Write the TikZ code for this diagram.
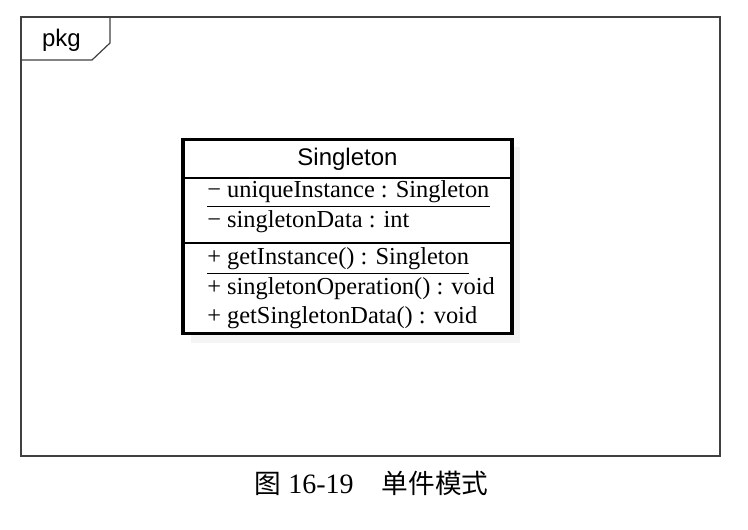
\documentclass[tikz,border=0pt]{standalone}
\usepackage{fontspec}
\setmainfont{Liberation Serif}
\setsansfont{Liberation Sans}
\newfontfamily\cjk{Noto Sans CJK SC}
\usetikzlibrary{positioning}

\begin{document}
\begin{tikzpicture}[x=0.75pt,y=-0.75pt,
  frameline/.style={line width=1.1pt,black!75},
  member/.style={anchor=base west,inner sep=0pt,font=\fontsize{18.3}{21}\selectfont},
  static/.style={member,append after command={
    ([yshift=-6.5pt]\tikzlastnode.base west) edge[line width=0.8pt] ([yshift=-6.5pt]\tikzlastnode.base east)}}]
  \useasboundingbox (0,0) rectangle (748,530);

  %package frame and tab
  \node[draw,frameline,minimum width=524.25pt,minimum height=329.25pt,inner sep=0pt] (frame) at (370.5,236.5) {};
  \node[anchor=base,inner sep=0pt,font=\sffamily\fontsize{18}{21}\selectfont] (pkg) at (61.5,47) {pkg};
  \draw[frameline,line width=0.9pt] (frame.west |- 0,60) -- (92,60) -- (110,43) -- (frame.north -| 110,0);

  %class box with its shadow
  \fill[gray!9] (191,147) rectangle (520,343);
  \node[draw,fill=white,line width=2.6pt,minimum width=246.75pt,minimum height=145.5pt,inner sep=0pt] (sgl) at (347.5,236.5) {};
  \node[anchor=base,inner sep=0pt,font=\sffamily\fontsize{18}{21}\selectfont] (name) at (sgl.center |- 0,166) {Singleton};
  \draw[line width=1.1pt] (sgl.west |- 0,178) -- (sgl.east |- 0,178);
  \draw[line width=1.1pt] (sgl.west |- 0,243) -- (sgl.east |- 0,243);

  %attributes
  \node[static] (uniq) at (207,198) {− uniqueInstance : Singleton};
  \node[member] (data) at (207,228) {− singletonData : int};
  %operations
  \node[static] (getinst) at (207,265) {+ getInstance() : Singleton};
  \node[member] (oper) at (207,295) {+ singletonOperation() : void};
  \node[member] (getdata) at (207,324) {+ getSingletonData() : void};

  %caption
  \node[anchor=base,inner sep=0pt,font=\fontsize{21}{24}\selectfont] (cap) at (371.5,493)
    {{\cjk\fontsize{20}{24}\selectfont 图}\ 16-19\quad{\cjk\fontsize{20}{24}\selectfont 单件模式}};
\end{tikzpicture}
\end{document}
